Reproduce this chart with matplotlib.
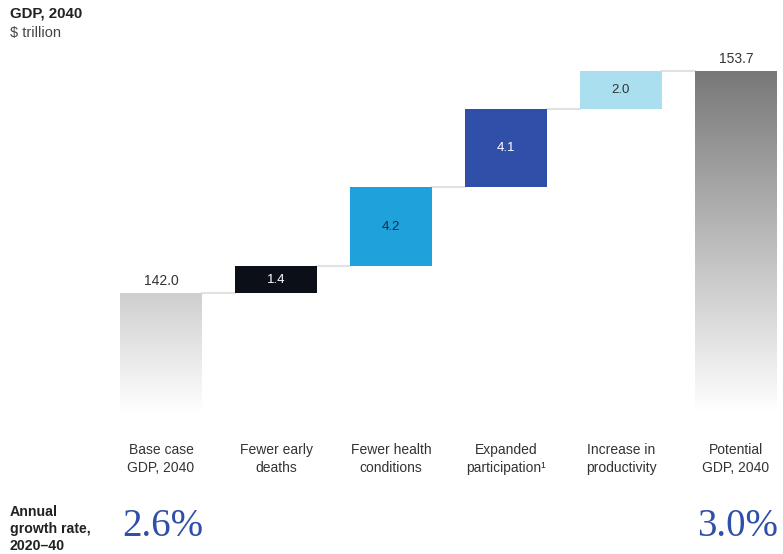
import numpy as np
import matplotlib as mpl
mpl.use('Agg')
import matplotlib.pyplot as plt
from matplotlib.colors import LinearSegmentedColormap

plt.rcParams['font.family'] = ['Liberation Sans', 'DejaVu Sans']

# data
categories = ['Base case\nGDP, 2040', 'Fewer early\ndeaths', 'Fewer health\nconditions',
              'Expanded\nparticipation\u00b9', 'Increase in\nproductivity', 'Potential\nGDP, 2040']
base_value = 142.0
steps = [1.4, 4.2, 4.1, 2.0]
total_value = 153.7
step_colors = ['#0b0f17', '#1fa1dc', '#2f4fa8', '#aadff0']
step_text_colors = ['white', '#1c2a3a', 'white', '#333333']
growth_base = '2.6%'
growth_potential = '3.0%'

W, H = 783, 554
fig = plt.figure(figsize=(W / 100, H / 100), dpi=100)

# axes spanning the whole figure, so the bars line up with pixel layout
px_per_cat = 115.0
x0_px = 161.0
px_per_unit = 18.97
y_ref_px = 293.0
xlim = (-x0_px / px_per_cat, (W - x0_px) / px_per_cat)
ylim = (base_value - (H - y_ref_px) / px_per_unit, base_value + y_ref_px / px_per_unit)

ax = fig.add_axes([0, 0, 1, 1])
ax.set_xlim(xlim)
ax.set_ylim(ylim)
ax.axis('off')

bw = 0.705
fade_bottom = base_value - (412 - y_ref_px) / px_per_unit


def gradient_bar(x, top, color):
    cmap = LinearSegmentedColormap.from_list('g', ['white', color])
    grad = np.linspace(0, 1, 256).reshape(-1, 1)
    ax.imshow(grad, cmap=cmap, origin='lower', aspect='auto',
              extent=[x - bw / 2, x + bw / 2, fade_bottom, top], zorder=2)


gradient_bar(0, base_value, '#cfcfcf')
gradient_bar(5, total_value, '#787878')

level = base_value
for i, (v, c, tc) in enumerate(zip(steps, step_colors, step_text_colors)):
    x = i + 1
    # connector from previous bar
    ax.plot([x - 1 + bw / 2, x - bw / 2], [level, level], color='#e2e2e2', lw=1.5, zorder=1)
    ax.bar(x, v, bottom=level, width=bw, color=c, zorder=2)
    ax.text(x, level + v / 2, f'{v:.1f}', ha='center', va='center', color=tc, fontsize=9.5)
    level += v
ax.plot([4 + bw / 2, 5 - bw / 2], [level, level], color='#e2e2e2', lw=1.5, zorder=1)

ax.text(0, base_value + 0.25, f'{base_value:.1f}', ha='center', va='bottom', color='#333333', fontsize=10)
ax.text(5, total_value + 0.25, f'{total_value:.1f}', ha='center', va='bottom', color='#333333', fontsize=10)

for i, lab in enumerate(categories):
    ax.text(i, base_value - (443 - y_ref_px) / px_per_unit, lab, ha='center', va='top',
            color='#333333', fontsize=10, linespacing=1.4)


def ftext(x, y, s, **kw):
    fig.text(x / W, 1 - y / H, s, **kw)


ftext(10, 13, 'GDP, 2040', fontsize=10.8, fontweight='bold', color='#222222', va='center')
ftext(10, 33, '$ trillion', fontsize=10.5, color='#444444', va='center')
ftext(10, 529, 'Annual\ngrowth rate,\n2020\u201340', fontsize=10.2, fontweight='bold',
      color='#222222', va='center', linespacing=1.3)
ftext(163, 526, growth_base, fontsize=28, color='#2f4fa8', ha='center', va='center',
      family='Liberation Serif')
ftext(738, 526, growth_potential, fontsize=28, color='#2f4fa8', ha='center', va='center',
      family='Liberation Serif')

fig.savefig('out.png', dpi=100)
